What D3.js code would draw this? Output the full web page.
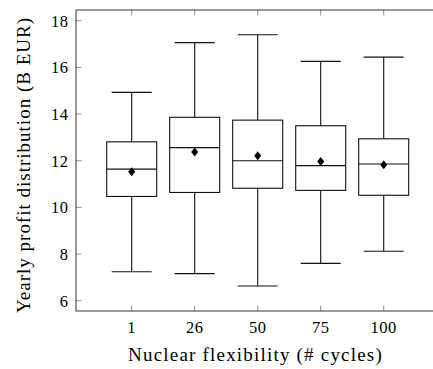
<!DOCTYPE html>
<html><head><meta charset="utf-8">
<script src="https://cdn.jsdelivr.net/npm/d3@7"></script>
<style>body{margin:0;background:#fff}svg{display:block}text{font-family:"Liberation Serif","DejaVu Serif",serif;fill:#000}</style>
</head><body><svg id="c" width="433" height="369"></svg>
<script>
const categories = ["1","26","50","75","100"];
const lowWhisker = [7.24, 7.16, 6.63, 7.60, 8.12];
const q1 = [10.47, 10.64, 10.82, 10.73, 10.52];
const median = [11.64, 12.56, 12.00, 11.79, 11.86];
const q3 = [12.81, 13.86, 13.74, 13.50, 12.94];
const highWhisker = [14.93, 17.06, 17.40, 16.26, 16.44];
const mean = [11.53, 12.37, 12.21, 11.97, 11.83];
const yTicks = [6, 8, 10, 12, 14, 16, 18];

const svg = d3.select("#c");
const L = 76, R = 439.4, T = 10, B = 311;
const x = d3.scaleLinear().domain([0.116, 5.884]).range([L, R]);
const y = d3.scaleLinear().domain([5.56, 18.46]).range([B, T]);
const boxW = 50, capW = 40;

const g = svg.append("g");
yTicks.forEach(t => {
  g.append("line").attr("x1", L).attr("x2", L + 5.5).attr("y1", y(t)).attr("y2", y(t)).attr("stroke", "#777").attr("stroke-width", 0.8);
  g.append("line").attr("x1", R).attr("x2", R - 5.5).attr("y1", y(t)).attr("y2", y(t)).attr("stroke", "#777").attr("stroke-width", 0.8);
  g.append("text").attr("x", 68.5).attr("y", y(t)).attr("dy", "0.35em").attr("text-anchor", "end").attr("font-size", 16.5).attr("letter-spacing", 0.5).text(t);
});
categories.forEach((c, i) => {
  const cx = x(i + 1);
  g.append("line").attr("x1", cx).attr("x2", cx).attr("y1", B).attr("y2", B - 5.5).attr("stroke", "#777").attr("stroke-width", 0.8);
  g.append("line").attr("x1", cx).attr("x2", cx).attr("y1", T).attr("y2", T + 5.5).attr("stroke", "#777").attr("stroke-width", 0.8);
  g.append("text").attr("x", cx).attr("y", 327).attr("dy", "0.35em").attr("text-anchor", "middle").attr("font-size", 16.5).attr("letter-spacing", 0.5).text(c);
});
g.append("rect").attr("x", L).attr("y", T).attr("width", R - L).attr("height", B - T).attr("fill", "none").attr("stroke", "#333").attr("stroke-width", 1);

categories.forEach((c, i) => {
  const cx = x(i + 1);
  const bg = g.append("g").attr("stroke", "#111").attr("stroke-width", 1.1).attr("fill", "none");
  bg.append("line").attr("x1", cx).attr("x2", cx).attr("y1", y(q3[i])).attr("y2", y(highWhisker[i]));
  bg.append("line").attr("x1", cx).attr("x2", cx).attr("y1", y(q1[i])).attr("y2", y(lowWhisker[i]));
  bg.append("line").attr("x1", cx - capW / 2).attr("x2", cx + capW / 2).attr("y1", y(highWhisker[i])).attr("y2", y(highWhisker[i]));
  bg.append("line").attr("x1", cx - capW / 2).attr("x2", cx + capW / 2).attr("y1", y(lowWhisker[i])).attr("y2", y(lowWhisker[i]));
  bg.append("rect").attr("x", cx - boxW / 2).attr("y", y(q3[i])).attr("width", boxW).attr("height", y(q1[i]) - y(q3[i]));
  bg.append("line").attr("x1", cx - boxW / 2).attr("x2", cx + boxW / 2).attr("y1", y(median[i])).attr("y2", y(median[i]));
  const my = y(mean[i]);
  g.append("path").attr("d", `M${cx},${my - 4.5}L${cx + 3.5},${my}L${cx},${my + 4.5}L${cx - 3.5},${my}Z`).attr("fill", "#000");
});

svg.append("text").attr("x", 255.5).attr("y", 354).attr("dy", "0.35em").attr("text-anchor", "middle").attr("font-size", 19).attr("letter-spacing", 1.2).text("Nuclear flexibility (# cycles)");
svg.append("text").attr("transform", "translate(23,165) rotate(-90)").attr("dy", "0.35em").attr("text-anchor", "middle").attr("font-size", 19).attr("letter-spacing", 1.0).text("Yearly profit distribution (B EUR)");
</script></body></html>
